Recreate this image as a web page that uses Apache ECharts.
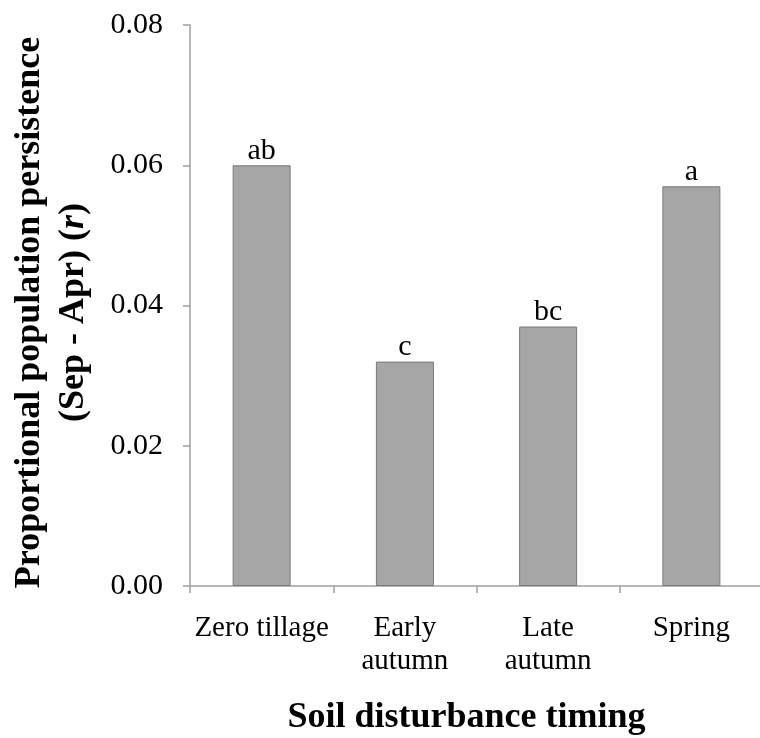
<!DOCTYPE html>
<html>
<head>
<meta charset="utf-8">
<script src="https://cdn.jsdelivr.net/npm/echarts@6/dist/echarts.min.js"></script>
<style>
  html, body { margin: 0; padding: 0; background: #ffffff; }
  #chart { width: 760px; height: 738px; }
</style>
</head>
<body>
<div id="chart"></div>
<script>
// Soil disturbance timing treatments
const categories = ['Zero tillage', 'Early\nautumn', 'Late\nautumn', 'Spring'];
// Proportional population persistence, Sep - Apr (r)
const persistence = [0.060, 0.032, 0.037, 0.057];
// Significance letters above each bar
const letters = ['ab', 'c', 'bc', 'a'];
// Value axis ticks
const yMin = 0, yMax = 0.08, yStep = 0.02;

const serif = '"Liberation Serif", "Times New Roman", serif';
const axisGray = '#a0a0a0';

const chart = echarts.init(document.getElementById('chart'), null, { renderer: 'canvas' });

chart.setOption({
  backgroundColor: '#ffffff',
  animation: false,
  grid: {
    left: 190, top: 25, width: 573, height: 561,
    containLabel: false,
    outerBoundsMode: 'none'
  },
  xAxis: {
    type: 'category',
    data: categories,
    boundaryGap: true,
    axisLine: { show: true, lineStyle: { color: axisGray, width: 1.5 } },
    axisTick: { show: true, length: 7, inside: false, lineStyle: { color: axisGray, width: 1.5 } },
    axisLabel: {
      margin: 26,
      fontFamily: serif,
      fontSize: 29,
      color: '#000000',
      lineHeight: 33,
      interval: 0
    },
    splitLine: { show: false },
    name: 'Soil disturbance timing',
    nameLocation: 'middle',
    nameGap: 114,
    nameTextStyle: {
      fontFamily: serif, fontSize: 36, fontWeight: 'bold', color: '#000000',
      padding: [0, 20, 0, 0]
    }
  },
  yAxis: {
    type: 'value',
    min: yMin,
    max: yMax,
    interval: yStep,
    axisLine: { show: true, lineStyle: { color: axisGray, width: 1.5 } },
    axisTick: { show: true, length: 7, inside: false, lineStyle: { color: axisGray, width: 1.5 } },
    axisLabel: {
      margin: 27,
      fontFamily: serif,
      fontSize: 30,
      color: '#000000',
      padding: [7, 0, 0, 0],
      formatter: v => v.toFixed(2)
    },
    splitLine: { show: false },
    name: '{b|Proportional population persistence}\n{b|(Sep - Apr) (}{i|r}{b|)}',
    nameLocation: 'middle',
    nameGap: 94,
    nameRotate: 90,
    nameTextStyle: {
      align: 'center',
      padding: [0, 14, 0, 0],
      rich: {
        b: { fontFamily: serif, fontSize: 36, fontWeight: 'bold', color: '#000000', lineHeight: 44 },
        i: { fontFamily: serif, fontSize: 36, fontWeight: 'bold', fontStyle: 'italic', color: '#000000', lineHeight: 44 }
      }
    }
  },
  series: [{
    type: 'bar',
    data: persistence,
    barWidth: 58,
    itemStyle: { color: '#a6a6a6', borderColor: '#7a7a7a', borderWidth: 1 },
    label: {
      show: true,
      position: 'top',
      distance: -1,
      fontFamily: serif,
      fontSize: 30,
      color: '#000000',
      formatter: p => letters[p.dataIndex]
    }
  }]
});
</script>
</body>
</html>
